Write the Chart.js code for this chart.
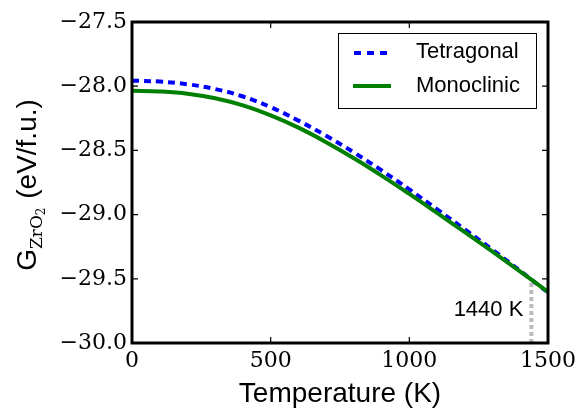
<!DOCTYPE html>
<html>
<head>
<meta charset="utf-8">
<script src="https://cdn.jsdelivr.net/npm/chart.js@4"></script>
<style>
  html, body { margin: 0; padding: 0; background: #fff; }
  #wrap { width: 577px; height: 408px; }
</style>
</head>
<body>
<div id="wrap"><canvas id="gibbsChart" width="577" height="408"></canvas></div>
<script>
// Gibbs free energy of ZrO2 phases vs temperature
const temperatures = [0, 100, 200, 300, 400, 500, 600, 700, 800, 900, 1000, 1100, 1200, 1300, 1400, 1500];
const tetragonal = [-27.957, -27.964, -27.985, -28.022, -28.080, -28.163, -28.268, -28.386, -28.516, -28.656, -28.804, -28.959, -29.115, -29.274, -29.439, -29.607];
const monoclinic = [-28.035, -28.041, -28.058, -28.094, -28.150, -28.228, -28.323, -28.436, -28.561, -28.696, -28.839, -28.987, -29.137, -29.289, -29.444, -29.602];
const transitionT = 1440;
const transitionG = -29.52;
const xTickValues = [0, 500, 1000, 1500];
const yTickValues = [-30.0, -29.5, -29.0, -28.5, -28.0, -27.5];

const sans = "'Liberation Sans', Arial, sans-serif";
const serif = "'DejaVu Serif', serif";

function toPoints(xs, ys) {
  return xs.map((x, i) => ({ x: x, y: ys[i] }));
}

// frame, inward ticks, axis titles, legend and the 1440 K note
const decorations = {
  id: "decorations",
  afterDatasetsDraw(chart) {
    const { ctx, chartArea: a, scales } = chart;
    const x = scales.x, y = scales.y;
    ctx.save();

    ctx.strokeStyle = "#000";
    ctx.lineWidth = 1.2;
    ctx.beginPath();
    xTickValues.forEach(v => {
      const px = x.getPixelForValue(v);
      ctx.moveTo(px, a.bottom); ctx.lineTo(px, a.bottom - 6);
      ctx.moveTo(px, a.top); ctx.lineTo(px, a.top + 6);
    });
    yTickValues.forEach(v => {
      const py = y.getPixelForValue(v);
      ctx.moveTo(a.left, py); ctx.lineTo(a.left + 6, py);
      ctx.moveTo(a.right, py); ctx.lineTo(a.right - 6, py);
    });
    ctx.stroke();

    ctx.lineWidth = 3;
    ctx.strokeRect(a.left, a.top, a.right - a.left, a.bottom - a.top);

    // note next to the transition line
    ctx.fillStyle = "#000";
    ctx.font = "22px " + sans;
    ctx.textAlign = "right";
    ctx.textBaseline = "middle";
    ctx.fillText(transitionT + " K", x.getPixelForValue(transitionT) - 8, y.getPixelForValue(-29.74));

    // legend
    const lx = a.right - 210, ly = a.top + 11;
    ctx.fillStyle = "#fff";
    ctx.fillRect(lx, ly, 198, 75);
    ctx.lineWidth = 1;
    ctx.strokeStyle = "#000";
    ctx.strokeRect(lx + 0.5, ly + 0.5, 198, 75);

    ctx.lineWidth = 4;
    ctx.strokeStyle = "#0000ff";
    ctx.setLineDash([7, 6]);
    ctx.beginPath(); ctx.moveTo(lx + 16, ly + 20); ctx.lineTo(lx + 52, ly + 20); ctx.stroke();
    ctx.setLineDash([]);
    ctx.strokeStyle = "#008000";
    ctx.beginPath(); ctx.moveTo(lx + 15, ly + 53); ctx.lineTo(lx + 53, ly + 53); ctx.stroke();

    ctx.fillStyle = "#000";
    ctx.textAlign = "left";
    ctx.fillText("Tetragonal", lx + 78, ly + 19);
    ctx.fillText("Monoclinic", lx + 78, ly + 53);

    // x title
    ctx.font = "28px " + sans;
    ctx.textAlign = "center";
    ctx.textBaseline = "alphabetic";
    ctx.fillText("Temperature (K)", (a.left + a.right) / 2, 402);

    // y title with subscript
    ctx.translate(36, 185);
    ctx.rotate(-Math.PI / 2);
    const bigFont = "28px " + sans, subFont = "17px " + serif, sub2Font = "12px " + serif;
    ctx.font = bigFont; const wG = ctx.measureText("G").width;
    ctx.font = subFont; const wZ = ctx.measureText("ZrO").width;
    ctx.font = sub2Font; const w2 = ctx.measureText("2").width;
    ctx.font = bigFont; const wR = ctx.measureText(" (eV/f.u.)").width;
    let cx = -(wG + wZ + w2 + 1 + wR) / 2;
    ctx.textAlign = "left";
    ctx.font = bigFont; ctx.fillText("G", cx, 0); cx += wG;
    ctx.font = subFont; ctx.fillText("ZrO", cx, 6); cx += wZ;
    ctx.font = sub2Font; ctx.fillText("2", cx, 9); cx += w2 + 1;
    ctx.font = bigFont; ctx.fillText(" (eV/f.u.)", cx, 0);

    ctx.restore();
  }
};

const ctx = document.getElementById("gibbsChart").getContext("2d");

new Chart(ctx, {
  type: "scatter",
  data: {
    datasets: [
      {
        label: "Tetragonal",
        data: toPoints(temperatures, tetragonal),
        showLine: true,
        borderColor: "#0000ff",
        borderWidth: 4,
        borderDash: [7, 5],
        pointRadius: 0,
        tension: 0.4,
        order: 2,
      },
      {
        label: "Monoclinic",
        data: toPoints(temperatures, monoclinic),
        showLine: true,
        borderColor: "#008000",
        borderWidth: 4,
        pointRadius: 0,
        tension: 0.4,
        order: 1,
      },
      {
        label: "transition",
        data: [{ x: transitionT, y: -30 }, { x: transitionT, y: transitionG }],
        showLine: true,
        borderColor: "#bbbbbb",
        borderWidth: 4,
        borderDash: [4, 3],
        pointRadius: 0,
        order: 3,
      },
    ],
  },
  options: {
    responsive: false,
    animation: false,
    layout: { padding: { left: 0, right: 29, top: 22, bottom: 0 } },
    plugins: {
      legend: { display: false },
      tooltip: { enabled: false },
    },
    scales: {
      x: {
        type: "linear",
        min: 0,
        max: 1500,
        grid: { display: false, drawTicks: false },
        border: { display: false },
        afterBuildTicks: s => { s.ticks = xTickValues.map(v => ({ value: v })); },
        afterFit: s => { s.height = 65; s.paddingLeft = 0; s.paddingRight = 0; },
        ticks: {
          padding: 5,
          color: "#000",
          font: { family: "DejaVu Serif", size: 22 },
          maxRotation: 0,
          callback: v => String(v),
        },
      },
      y: {
        min: -30,
        max: -27.5,
        grid: { display: false, drawTicks: false },
        border: { display: false },
        afterBuildTicks: s => { s.ticks = yTickValues.map(v => ({ value: v })); },
        afterFit: s => { s.width = 132; s.paddingTop = 0; s.paddingBottom = 0; },
        ticks: {
          padding: 5,
          color: "#000",
          font: { family: "DejaVu Serif", size: 22 },
          callback: v => v.toFixed(1).replace("-", "\u2212"),
        },
      },
    },
  },
  plugins: [decorations],
});
</script>
</body>
</html>
